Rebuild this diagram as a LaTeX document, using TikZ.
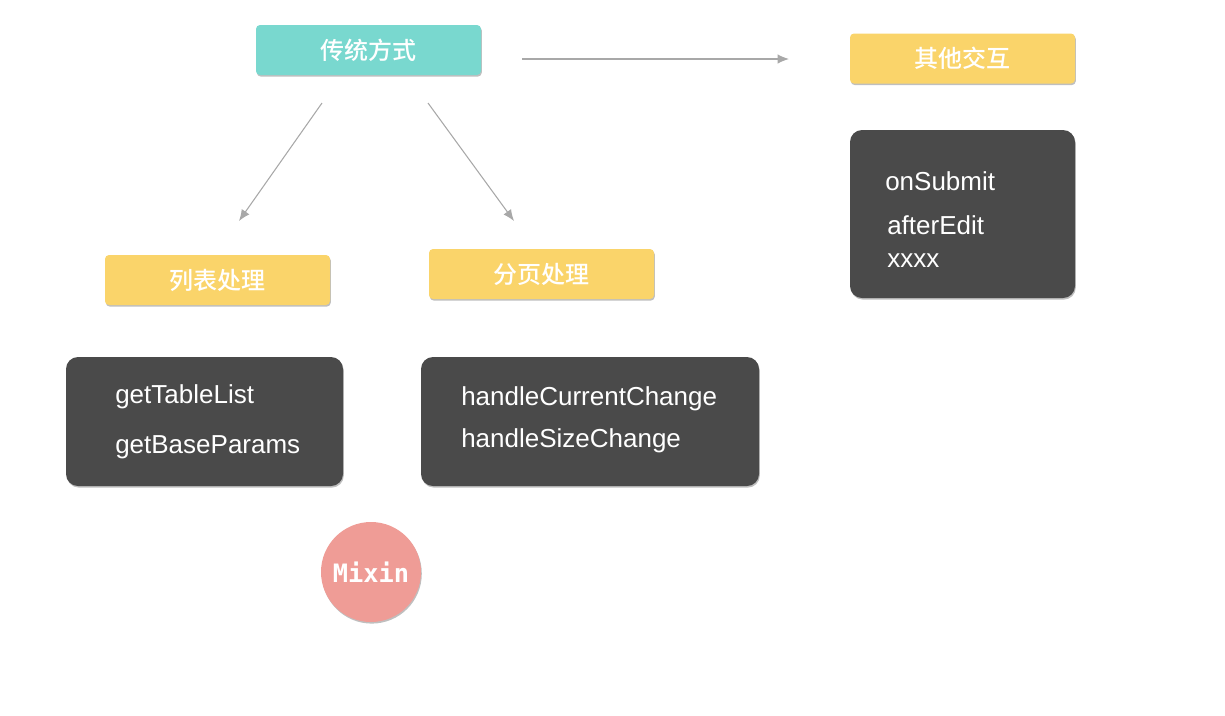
\documentclass[tikz,border=0pt]{standalone}
\usepackage{fontspec}
\setmainfont{Liberation Sans}
\setmonofont{DejaVu Sans Mono}
\newfontfamily\cjk{Noto Sans CJK SC}[BoldFont={Noto Sans CJK SC Medium}]
\usetikzlibrary{arrows.meta,shadows}

\definecolor{tealbox}{HTML}{79D8CF}
\definecolor{yellowbox}{HTML}{FAD46A}
\definecolor{darkbox}{HTML}{4A4A4A}
\definecolor{pinkdot}{HTML}{EF9C96}
\definecolor{arrowgray}{HTML}{A8A8A8}

\tikzset{
  boxshadow/.style={drop shadow={shadow xshift=0.6pt, shadow yshift=-1.2pt, opacity=0.25, fill=black}},
  titlebox/.style={boxshadow, rounded corners=3pt, minimum width=168.75pt, minimum height=37.5pt,
    text=white, font=\cjk\bfseries\fontsize{18}{21}\selectfont, inner sep=0pt},
  codebox/.style={boxshadow, fill=darkbox, rounded corners=9pt, inner sep=0pt},
  codetext/.style={anchor=west, text=white, font=\fontsize{19.5}{23}\selectfont, inner sep=0pt},
  flow/.style={draw=arrowgray, line width=0.8pt, -{Latex[length=8.5pt,width=7pt]}},
}

\begin{document}
\begin{tikzpicture}[x=0.75pt,y=-0.75pt]
\useasboundingbox (0,0) rectangle (1225,715);

% headers
\node[titlebox, fill=tealbox] (chuantong) at (368.5,50) {传统方式};
\node[titlebox, fill=yellowbox] (qita) at (962.5,58.5) {其他交互};
\node[titlebox, fill=yellowbox] (liebiao) at (217.5,280) {列表处理};
\node[titlebox, fill=yellowbox] (fenye) at (541.5,274) {分页处理};

% method boxes
\node[codebox, minimum width=207.75pt, minimum height=96.75pt] (listbox) at (204.5,421.5) {};
\node[codebox, minimum width=253.5pt, minimum height=96.75pt] (pagebox) at (590,421.5) {};
\node[codebox, minimum width=168.75pt, minimum height=126pt] (otherbox) at (962.5,214) {};

\node[codetext] (gettable) at (115,397) {getTableList};
\node[codetext] (getbase) at (115,447) {getBaseParams};
\node[codetext] (handlecur) at (461,399) {handleCurrentChange};
\node[codetext] (handlesize) at (461,441) {handleSizeChange};
\node[codetext] (onsubmit) at (885,181) {onSubmit};
\node[codetext] (afteredit) at (887,225) {afterEdit};
\node[codetext] (xxxx) at (887,261) {xxxx};

% mixin
\node[boxshadow, circle, fill=pinkdot, minimum size=75pt, inner sep=0pt, text=white,
  font=\ttfamily\bfseries\fontsize{19}{22}\selectfont] (mixin) at (371,572) {Mixin};

% arrows
\coordinate (toright) at (522,59);
\coordinate (rightend) at (789,59);
\coordinate (toleft) at (322,103);
\coordinate (leftend) at (239,221);
\coordinate (tomid) at (428,103);
\coordinate (midend) at (514,221);
\draw[flow] (toright) -- (rightend);
\draw[flow] (toleft) -- (leftend);
\draw[flow] (tomid) -- (midend);
\end{tikzpicture}
\end{document}
